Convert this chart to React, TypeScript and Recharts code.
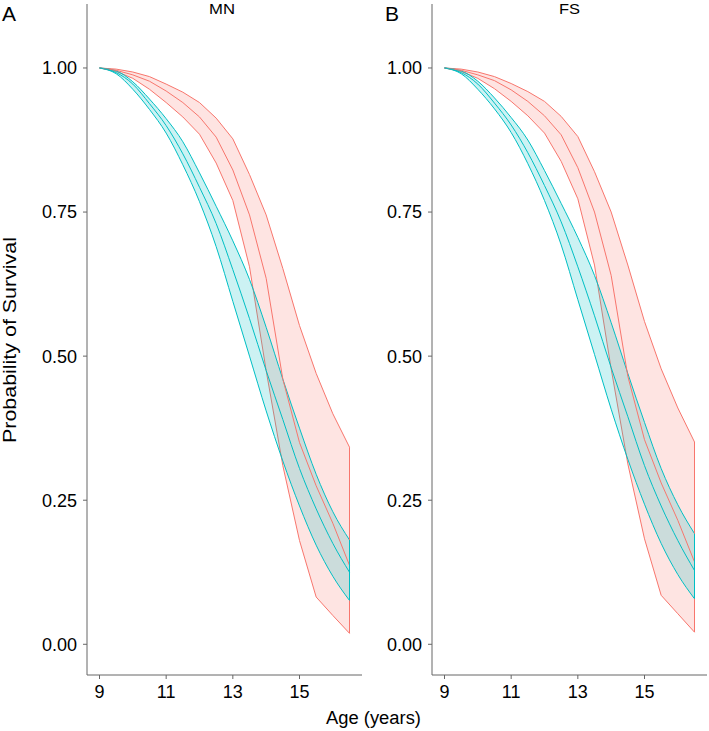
import { ComposedChart, Area, Line, XAxis, YAxis, ReferenceLine } from "recharts";

// ages (years) on a half-year grid
const AGES = [9, 9.5, 10, 10.5, 11, 11.5, 12, 12.5, 13, 13.5, 14, 14.5, 15, 15.5, 16, 16.5];
const X_TICKS = [9, 11, 13, 15];
const Y_TICKS = [0, 0.25, 0.5, 0.75, 1];

// panel A: MN
const MN_TEAL_LO = [1.0, 0.99, 0.963, 0.928, 0.887, 0.832, 0.768, 0.69, 0.595, 0.5, 0.405, 0.318, 0.24, 0.172, 0.118, 0.076];
const MN_TEAL_MID = [1.0, 0.992, 0.972, 0.938, 0.9, 0.851, 0.793, 0.73, 0.65, 0.565, 0.475, 0.39, 0.305, 0.235, 0.175, 0.125];
const MN_TEAL_HI = [1.0, 0.995, 0.976, 0.946, 0.912, 0.872, 0.818, 0.76, 0.7, 0.633, 0.55, 0.46, 0.375, 0.295, 0.23, 0.181];
const MN_RED_LO = [1.0, 0.994, 0.982, 0.963, 0.94, 0.915, 0.885, 0.835, 0.77, 0.655, 0.475, 0.31, 0.18, 0.082, 0.05, 0.019];
const MN_RED_MID = [1.0, 0.996, 0.988, 0.977, 0.96, 0.94, 0.915, 0.88, 0.823, 0.745, 0.635, 0.46, 0.35, 0.275, 0.21, 0.137];
const MN_RED_HI = [1.0, 0.998, 0.993, 0.985, 0.972, 0.958, 0.94, 0.913, 0.877, 0.815, 0.745, 0.652, 0.553, 0.47, 0.4, 0.342];

// panel B: FS
const FS_TEAL_LO = [1.0, 0.99, 0.963, 0.929, 0.888, 0.834, 0.77, 0.693, 0.598, 0.503, 0.408, 0.321, 0.243, 0.175, 0.121, 0.079];
const FS_TEAL_MID = [1.0, 0.992, 0.972, 0.939, 0.901, 0.853, 0.796, 0.733, 0.655, 0.57, 0.48, 0.395, 0.31, 0.24, 0.18, 0.128];
const FS_TEAL_HI = [1.0, 0.995, 0.977, 0.948, 0.914, 0.875, 0.822, 0.765, 0.706, 0.64, 0.558, 0.47, 0.385, 0.305, 0.242, 0.192];
const FS_RED_LO = [1.0, 0.994, 0.982, 0.964, 0.942, 0.917, 0.887, 0.838, 0.773, 0.658, 0.478, 0.313, 0.183, 0.085, 0.053, 0.021];
const FS_RED_MID = [1.0, 0.996, 0.988, 0.978, 0.962, 0.942, 0.917, 0.884, 0.827, 0.75, 0.64, 0.465, 0.355, 0.28, 0.215, 0.143];
const FS_RED_HI = [1.0, 0.998, 0.993, 0.985, 0.973, 0.959, 0.942, 0.916, 0.881, 0.82, 0.75, 0.658, 0.56, 0.478, 0.41, 0.351];

const RED = "#F8766D";
const TEAL = "#00BFC4";
const AXIS = "#666666";
const FONT = "'Liberation Sans', Arial, sans-serif";

type Row = { age: number; teal: number[]; tealMid: number; red: number[]; redMid: number };

function buildRows(tLo: number[], tMid: number[], tHi: number[], rLo: number[], rMid: number[], rHi: number[]): Row[] {
  return AGES.map((age, i) => ({
    age,
    teal: [tLo[i], tHi[i]],
    tealMid: tMid[i],
    red: [rLo[i], rHi[i]],
    redMid: rMid[i],
  }));
}

const mnRows = buildRows(MN_TEAL_LO, MN_TEAL_MID, MN_TEAL_HI, MN_RED_LO, MN_RED_MID, MN_RED_HI);
const fsRows = buildRows(FS_TEAL_LO, FS_TEAL_MID, FS_TEAL_HI, FS_RED_LO, FS_RED_MID, FS_RED_HI);

function Panel({ rows }: { rows: Row[] }) {
  const last = rows[rows.length - 1];
  return (
    <ComposedChart width={362} height={731} data={rows} margin={{ top: 4, right: 0, bottom: 26, left: 0 }}>
      <XAxis
        dataKey="age"
        type="number"
        domain={[8.625, 16.875]}
        ticks={X_TICKS}
        allowDataOverflow
        height={30}
        tickSize={4}
        tickMargin={6}
        stroke={AXIS}
        tick={{ fill: "#000", fontSize: 18, fontFamily: FONT }}
      />
      <YAxis
        type="number"
        domain={[-0.0533, 1.111]}
        ticks={Y_TICKS}
        allowDataOverflow
        width={87}
        tickSize={4}
        tickMargin={6}
        stroke={AXIS}
        tickFormatter={(v: number) => v.toFixed(2)}
        tick={{ fill: "#000", fontSize: 18, fontFamily: FONT }}
      />
      <Area dataKey="red" type="linear" fill={RED} fillOpacity={0.2} stroke={RED} strokeWidth={1} dot={false} activeDot={false} isAnimationActive={false} />
      <Line dataKey="redMid" type="linear" stroke={RED} strokeWidth={1} dot={false} activeDot={false} isAnimationActive={false} />
      <ReferenceLine segment={[{ x: last.age, y: last.red[0] }, { x: last.age, y: last.red[1] }]} stroke={RED} strokeWidth={1} />
      <Area dataKey="teal" type="monotone" fill={TEAL} fillOpacity={0.2} stroke={TEAL} strokeWidth={1} dot={false} activeDot={false} isAnimationActive={false} />
      <Line dataKey="tealMid" type="monotone" stroke={TEAL} strokeWidth={1} dot={false} activeDot={false} isAnimationActive={false} />
      <ReferenceLine segment={[{ x: last.age, y: last.teal[0] }, { x: last.age, y: last.teal[1] }]} stroke={TEAL} strokeWidth={1} />
    </ComposedChart>
  );
}

export default function App() {
  return (
    <div style={{ position: "absolute", left: 0, top: 0, width: 709, height: 731, background: "#fff", fontFamily: FONT }}>
      <div style={{ position: "absolute", left: 0, top: 0 }}>
        <Panel rows={mnRows} />
      </div>
      <div style={{ position: "absolute", left: 345, top: 0 }}>
        <Panel rows={fsRows} />
      </div>
      <svg width={709} height={731} style={{ position: "absolute", left: 0, top: 0, pointerEvents: "none" }}>
        <g fontFamily={FONT} fill="#000">
          <text x={2} y={21} fontSize={21}>A</text>
          <text x={385} y={21} fontSize={21}>B</text>
          <text x={209} y={14} fontSize={14} textLength={26} lengthAdjust="spacingAndGlyphs">MN</text>
          <text x={559} y={14} fontSize={14} textLength={21} lengthAdjust="spacingAndGlyphs">FS</text>
          <text x={326} y={724} fontSize={18} textLength={95} lengthAdjust="spacingAndGlyphs">Age (years)</text>
          <text
            transform="translate(16,340) rotate(-90)"
            fontSize={18}
            textAnchor="middle"
            textLength={206}
            lengthAdjust="spacingAndGlyphs"
          >
            Probability of Survival
          </text>
        </g>
      </svg>
    </div>
  );
}
